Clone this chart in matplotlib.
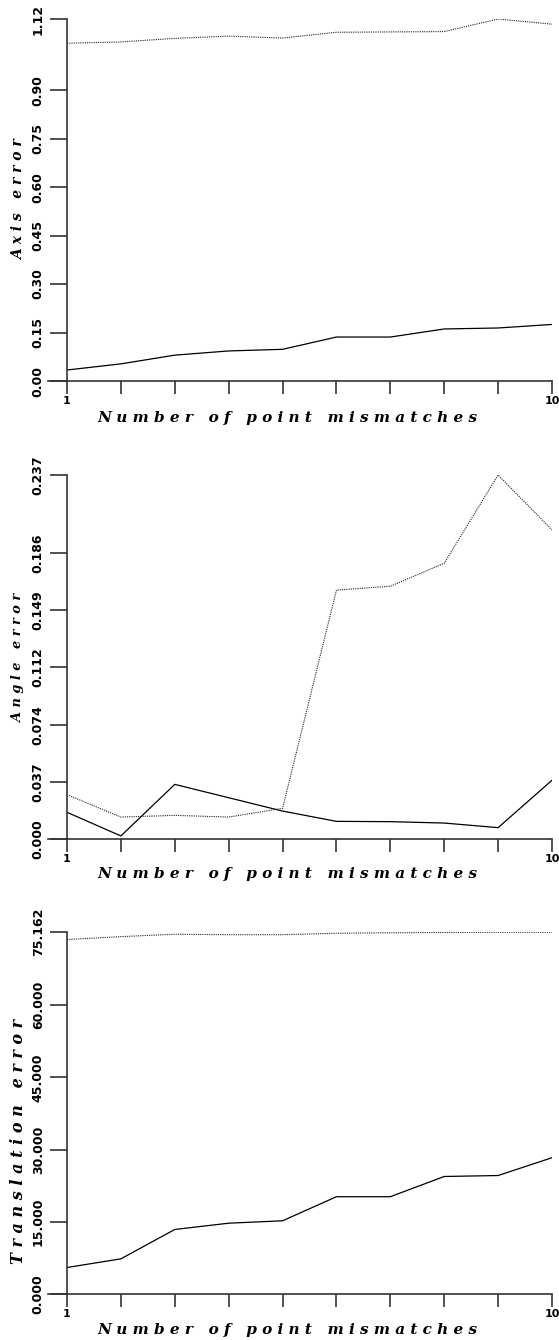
import numpy as np
import matplotlib
matplotlib.use("Agg")
import matplotlib.pyplot as plt

# number of point mismatches
mismatches = np.arange(1, 11)

# Axis error
axis_solid = [0.034, 0.053, 0.080, 0.093, 0.098, 0.136, 0.136, 0.161, 0.164, 0.175]
axis_dotted = [1.045, 1.049, 1.060, 1.067, 1.061, 1.079, 1.080, 1.081, 1.120, 1.104]
axis_ticks = [0.00, 0.15, 0.30, 0.45, 0.60, 0.75, 0.90, 1.12]
axis_ticklabels = ["0.00", "0.15", "0.30", "0.45", "0.60", "0.75", "0.90", "1.12"]

# Angle error
angle_solid = [0.0172, 0.0018, 0.0354, 0.0267, 0.0180, 0.0113, 0.0111, 0.0102, 0.0072, 0.0381]
angle_dotted = [0.0287, 0.0141, 0.0152, 0.0141, 0.0198, 0.162, 0.1645, 0.1795, 0.237, 0.2012]
angle_ticks = [0.000, 0.037, 0.074, 0.112, 0.149, 0.186, 0.237]
angle_ticklabels = ["0.000", "0.037", "0.074", "0.112", "0.149", "0.186", "0.237"]

# Translation error
trans_solid = [5.5, 7.3, 13.4, 14.7, 15.2, 20.2, 20.2, 24.4, 24.6, 28.3]
trans_dotted = [73.6, 74.2, 74.7, 74.6, 74.6, 74.9, 75.0, 75.05, 75.1, 75.1]
trans_ticks = [0.0, 15.0, 30.0, 45.0, 60.0, 75.162]
trans_ticklabels = ["0.000", "15.000", "30.000", "45.000", "60.000", "75.162"]

xlabel = "N u m b e r   o f   p o i n t   m i s m a t c h e s"

W, H = 559, 1340
fig = plt.figure(figsize=(W / 100, H / 100), dpi=100)

panels = [
    (axis_solid, axis_dotted, axis_ticks, axis_ticklabels, "A x i s   e r r o r", 10, 19, 381, 200, 418),
    (angle_solid, angle_dotted, angle_ticks, angle_ticklabels, "A n g l e   e r r o r", 9.3, 475, 838.7, 658, 874),
    (trans_solid, trans_dotted, trans_ticks, trans_ticklabels, "T r a n s l a t i o n   e r r o r", 11.5, 932, 1294, 1141, 1330),
]

axcol = "#333333"
for solid, dotted, ticks, ticklabels, ylab, ylab_fs, top, bot, ylab_y, xlab_y in panels:
    ax = fig.add_axes([67 / W, 1 - bot / H, 485 / W, (bot - top) / H])
    ax.plot(mismatches, solid, color="black", lw=0.9)
    ax.plot(mismatches, dotted, color="#222222", lw=0.8, linestyle=(0, (1, 1)))
    ax.set_xlim(1, 10)
    ax.set_ylim(0, ticks[-1])
    for s in ["top", "right", "bottom"]:
        ax.spines[s].set_visible(False)
    ax.spines["left"].set_color(axcol)
    ax.spines["left"].set_linewidth(1.2)
    # horizontal axis runs a bit past the y axis
    ax.plot([-0.04, 1.0], [0, 0], transform=ax.get_yaxis_transform(),
            color=axcol, lw=1.2, clip_on=False)
    ax.set_xticks(mismatches)
    ax.set_xticklabels(["1"] + [""] * 8 + ["10"], fontsize=8, fontweight="bold")
    ax.set_yticks(ticks)
    ax.set_yticklabels(ticklabels, fontsize=9, fontweight="bold", rotation=90, va="center")
    ax.tick_params(axis="x", length=9, width=1.2, color=axcol, pad=2)
    ax.tick_params(axis="y", length=12, width=1.2, color=axcol, pad=4)
    fig.text(19 / W, 1 - ylab_y / H, ylab, rotation=90, ha="center", va="center",
             family="DejaVu Serif", style="italic", fontweight="bold", fontsize=ylab_fs)
    fig.text(287 / W, 1 - xlab_y / H, xlabel, ha="center", va="center",
             family="DejaVu Serif", style="italic", fontweight="bold", fontsize=11)

fig.savefig("out.png", dpi=100)
